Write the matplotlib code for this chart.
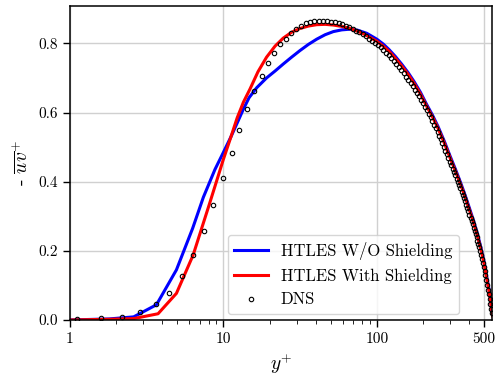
import matplotlib
matplotlib.use("Agg")
import matplotlib.pyplot as plt
from matplotlib.ticker import NullFormatter, LogLocator

plt.rcParams['font.family'] = 'serif'
plt.rcParams['font.serif'] = ['cmr10']
plt.rcParams['mathtext.fontset'] = 'cm'
plt.rcParams['axes.formatter.use_mathtext'] = True

# HTLES sans shielding
yp_blue = [1.0, 1.8, 2.6, 3.66, 4.94, 6.3, 7.4, 8.8, 10.0, 11.2, 12.3, 13.5, 14.7, 16.5,
           19.1, 21.7, 24.5, 27.8, 31.5, 35.8, 40.5, 46.0, 52.0, 59.0, 66.8, 75.0, 86.0,
           100.0, 110.0, 120.0, 132.0, 145.0, 160.0, 175.0, 192.0, 210.0, 230.0, 250.0,
           275.0, 300.0, 325.0, 350.0, 375.0, 400.0, 425.0, 450.0, 475.0, 500.0, 520.0,
           540.0, 567.0]
uv_blue = [0.0, 0.003, 0.009, 0.044, 0.145, 0.265, 0.355, 0.435, 0.485, 0.530, 0.570, 0.610,
           0.643, 0.672, 0.700, 0.720, 0.740, 0.760, 0.779, 0.797, 0.812, 0.825, 0.834, 0.839,
           0.841, 0.838, 0.829, 0.812, 0.798, 0.782, 0.762, 0.740, 0.715, 0.689, 0.659, 0.625,
           0.593, 0.560, 0.517, 0.474, 0.436, 0.399, 0.362, 0.325, 0.289, 0.252, 0.212, 0.168,
           0.125, 0.085, 0.017]

# HTLES avec shielding
yp_red = [1.0, 1.8, 2.6, 3.75, 4.94, 6.35, 8.1, 10.0, 11.2, 12.3, 13.5, 14.9, 16.8, 19.1,
          21.7, 24.5, 27.8, 31.5, 35.8, 40.5, 46.0, 52.0, 59.0, 66.8, 75.0, 84.0, 100.0,
          110.0, 120.0, 132.0, 145.0, 160.0, 175.0, 192.0, 210.0, 230.0, 250.0, 275.0, 300.0,
          325.0, 350.0, 375.0, 400.0, 425.0, 450.0, 475.0, 500.0, 520.0, 540.0, 567.0]
uv_red = [0.0, 0.002, 0.004, 0.018, 0.077, 0.188, 0.335, 0.465, 0.530, 0.585, 0.630, 0.668,
          0.718, 0.760, 0.792, 0.815, 0.832, 0.843, 0.850, 0.854, 0.855, 0.853, 0.849, 0.843,
          0.835, 0.825, 0.806, 0.792, 0.777, 0.757, 0.735, 0.710, 0.684, 0.654, 0.620, 0.588,
          0.555, 0.512, 0.469, 0.431, 0.394, 0.357, 0.320, 0.284, 0.247, 0.207, 0.163, 0.120,
          0.080, 0.012]

# DNS
yp_dns = [1.11, 1.60, 2.18, 2.85, 3.61, 4.43, 5.35, 6.38, 7.45, 8.61, 9.91, 11.3, 12.7, 14.3,
          15.9, 17.8, 19.4, 21.3, 23.3, 25.4, 27.4, 29.6, 31.9, 34.3, 36.7, 39.2, 41.8, 44.5,
          47.3, 50.2, 53.2, 56.3, 59.5, 62.8, 66.2, 69.7, 73.3, 77.0, 80.8, 84.7, 88.7, 92.8,
          97.0, 101.3, 105.7, 110.2, 114.8, 119.5, 124.3, 129.2, 134.2, 139.3, 144.5, 149.8,
          155.1, 160.5, 166.0, 171.5, 177.1, 182.8, 188.5, 194.3, 200.1, 206.0, 211.9, 217.9,
          223.9, 230.0, 236.1, 242.2, 248.4, 254.6, 260.8, 267.1, 273.4, 279.7, 286.0, 292.4,
          298.8, 305.2, 311.6, 318.0, 324.4, 330.8, 337.2, 343.6, 350.0, 356.4, 362.8, 369.2,
          375.6, 382.0, 388.4, 394.8, 401.2, 407.6, 414.0, 420.4, 426.8, 433.2, 439.6, 446.0,
          452.4, 458.8, 465.2, 471.6, 478.0, 484.4, 490.8, 497.2, 503.6, 510.0, 516.4, 522.8,
          529.2, 535.6, 542.0, 548.4, 554.8, 561.2]
uv_dns = [0.002, 0.005, 0.0095, 0.022, 0.045, 0.079, 0.127, 0.187, 0.257, 0.333, 0.410, 0.483,
          0.550, 0.611, 0.663, 0.705, 0.742, 0.773, 0.797, 0.814, 0.829, 0.841, 0.851, 0.858,
          0.862, 0.864, 0.865, 0.865, 0.864, 0.863, 0.861, 0.858, 0.855, 0.851, 0.847, 0.842,
          0.837, 0.832, 0.826, 0.820, 0.814, 0.808, 0.802, 0.796, 0.789, 0.781, 0.773, 0.765,
          0.757, 0.749, 0.740, 0.731, 0.722, 0.713, 0.704, 0.695, 0.685, 0.676, 0.666, 0.657,
          0.647, 0.637, 0.627, 0.617, 0.607, 0.596, 0.586, 0.575, 0.565, 0.554, 0.544, 0.533,
          0.522, 0.512, 0.501, 0.490, 0.479, 0.468, 0.457, 0.447, 0.438, 0.428, 0.419, 0.409,
          0.400, 0.390, 0.381, 0.371, 0.362, 0.352, 0.343, 0.333, 0.324, 0.314, 0.305, 0.296,
          0.286, 0.277, 0.267, 0.258, 0.248, 0.239, 0.229, 0.220, 0.210, 0.200, 0.189, 0.177,
          0.165, 0.153, 0.141, 0.129, 0.116, 0.100, 0.087, 0.074, 0.061, 0.047, 0.033, 0.019]

xticks = [1, 10, 100, 500]
xtick_labels = ['1', '10', '100', '500']

fig = plt.figure(figsize=(4.97, 3.76), dpi=100)
ax = fig.add_axes([0.1408, 0.149, 0.849, 0.835])

ax.plot(yp_blue, uv_blue, color='blue', lw=2.2, label='HTLES W/O Shielding')
ax.plot(yp_red, uv_red, color='red', lw=2.2, label='HTLES With Shielding')
ax.plot(yp_dns, uv_dns, 'o', mfc='none', mec='black', ms=3.2, mew=0.8, label='DNS')

ax.set_xscale('log')
ax.set_xlim(1, 562)
ax.set_ylim(0, 0.908)
ax.set_xticks(xticks)
ax.set_xticklabels(xtick_labels)
ax.xaxis.set_minor_locator(LogLocator(base=10, subs=range(2, 10)))
ax.xaxis.set_minor_formatter(NullFormatter())
ax.set_yticks([0.0, 0.2, 0.4, 0.6, 0.8])
ax.set_yticklabels(['0.0', '0.2', '0.4', '0.6', '0.8'])

ax.grid(True, which='major', color='#d0d0d0', lw=1.0)
ax.set_axisbelow(True)
ax.tick_params(labelsize=11, width=1.0)
ax.tick_params(which='major', length=5)
ax.tick_params(which='minor', length=3)
for s in ax.spines.values():
    s.set_linewidth(1.1)

ax.set_xlabel(r'$y^{+}$', fontsize=14)
ax.set_ylabel(r'- $\overline{uv}^{+}$', fontsize=14)

ax.legend(loc='lower right', bbox_to_anchor=(0.922, 0.019), borderaxespad=0, fontsize=12)

fig.savefig('out.png', dpi=100)
